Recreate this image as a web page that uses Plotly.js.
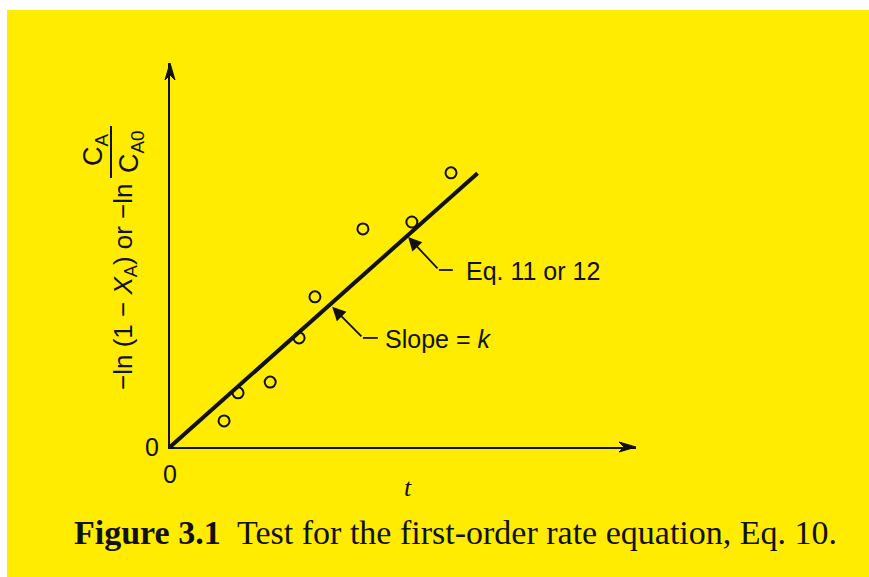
<!DOCTYPE html>
<html>
<head>
<meta charset="utf-8">
<script src="https://cdn.plot.ly/plotly-3.0.1.min.js"></script>
<style>
  html, body { margin: 0; padding: 0; background: #ffffff; }
  #sheet { position: relative; width: 869px; height: 577px; overflow: hidden; background: #ffffff; }
  #page { position: absolute; left: 7px; top: 10px; right: 0; bottom: 0; background: #FFEC00; }
  #chart { position: absolute; left: 0; top: 0; width: 869px; height: 577px; }
</style>
</head>
<body>
<div id="sheet">
  <div id="page"></div>
  <div id="chart"></div>
</div>
<script>
// Measured points: time t vs. -ln(1 - XA)
const timeT = [1.16, 1.46, 2.15, 2.77, 3.11, 4.14, 5.19, 6.03];
const lnValues = [0.68, 1.41, 1.69, 2.84, 3.91, 5.68, 5.86, 7.14];

// Fitted straight line through the origin (slope = k)
const fitT = [0, 6.6];
const fitY = [0, 7.13];

// Axis extents and tick labels
const xRange = [0, 10];
const yRange = [0, 10];
const xTickVals = [0];
const xTickText = ['0'];
const yTickVals = [0];
const yTickText = ['0'];

// Callout anchors: arrow tip on the line, elbow, end of the horizontal leader, label
const eqCallout = { tip: [5.11, 5.47], elbow: [5.77, 4.61], leaderEnd: 6.07, label: [6.30, 4.58], text: 'Eq. 11 or 12' };
const slopeCallout = { tip: [3.48, 3.65], elbow: [4.14, 2.84], leaderEnd: 4.46, label: [4.58, 2.80], text: 'Slope = <i>k</i>' };

const ink = '#111111';
const sans = 'Liberation Sans, Arial, sans-serif';
const serif = 'Liberation Serif, Times New Roman, serif';

// plot area geometry in page pixels
const W = 869, H = 577;
const M = { l: 170, r: 233, t: 63, b: 130 };
const plotW = W - M.l - M.r, plotH = H - M.t - M.b;
const px = x => (x - M.l) / plotW;          // page x -> paper x
const py = y => (H - M.b - y) / plotH;      // page y -> paper y

// notched arrowhead (paper coords, so it is not clipped by the plot area)
// pointing along +x ('x') or +y ('y'), tip at paper point (tx, ty); sizes in pixels
function arrowHead(tx, ty, dir, len, half, notch) {
  const pts = dir === 'x'
    ? [[0, 0], [-len, half], [-notch, 0], [-len, -half]]
    : [[0, 0], [-half, -len], [0, -notch], [half, -len]];
  return 'M' + pts.map(p => (tx + p[0] / plotW) + ',' + (ty + p[1] / plotH)).join(' L') + ' Z';
}

const traces = [
  {
    x: fitT, y: fitY, type: 'scatter', mode: 'lines',
    line: { color: ink, width: 4 }, hoverinfo: 'skip', cliponaxis: false
  },
  {
    x: timeT, y: lnValues, type: 'scatter', mode: 'markers',
    marker: { symbol: 'circle-open', size: 11, color: ink, line: { color: ink, width: 2 } },
    cliponaxis: false
  }
];

function callout(c) {
  return [
    {
      x: c.tip[0], y: c.tip[1], xref: 'x', yref: 'y',
      ax: c.elbow[0], ay: c.elbow[1], axref: 'x', ayref: 'y',
      text: '', showarrow: true, arrowhead: 2, arrowsize: 1.5, arrowwidth: 1.8,
      arrowcolor: ink, standoff: 0, startstandoff: 0
    },
    {
      x: c.label[0], y: c.label[1], xref: 'x', yref: 'y',
      text: c.text, showarrow: false, xanchor: 'left', yanchor: 'middle',
      font: { family: sans, size: 25, color: ink }
    }
  ];
}

function leader(c) {
  return {
    type: 'line', xref: 'x', yref: 'y',
    x0: c.elbow[0], y0: c.elbow[1], x1: c.leaderEnd, y1: c.elbow[1],
    line: { color: ink, width: 1.8 }
  };
}

const annotations = [
  ...callout(eqCallout),
  ...callout(slopeCallout),
  // y-axis title, drawn in pieces so the ratio reads as a stacked fraction
  {
    xref: 'paper', yref: 'paper', x: px(124), y: py(287),
    text: '\u2212ln (1 \u2212 <i>X</i><sub>A</sub>) or \u2212ln', textangle: -90,
    showarrow: false, xanchor: 'center', yanchor: 'middle',
    font: { family: sans, size: 26, color: ink }
  },
  {
    xref: 'paper', yref: 'paper', x: px(95), y: py(150),
    text: 'C<sub>A</sub>', textangle: -90,
    showarrow: false, xanchor: 'center', yanchor: 'middle',
    font: { family: sans, size: 27, color: ink }
  },
  {
    xref: 'paper', yref: 'paper', x: px(131), y: py(152),
    text: 'C<sub>A0</sub>', textangle: -90,
    showarrow: false, xanchor: 'center', yanchor: 'middle',
    font: { family: sans, size: 27, color: ink }
  },
  // x-axis title
  {
    xref: 'paper', yref: 'paper', x: px(408), y: py(487),
    text: '<i>t</i>', showarrow: false, xanchor: 'center', yanchor: 'middle',
    font: { family: serif, size: 26, color: ink }
  },
  // caption
  {
    xref: 'paper', yref: 'paper', x: px(455), y: py(532),
    text: '<b>Figure 3.1</b>\u00a0 Test for the first-order rate equation, Eq. 10.',
    showarrow: false, xanchor: 'center', yanchor: 'middle',
    font: { family: serif, size: 34, color: ink }
  }
];

const shapes = [
  leader(eqCallout),
  leader(slopeCallout),
  // fraction bar of the y-axis title
  {
    type: 'line', xref: 'paper', yref: 'paper',
    x0: px(111), x1: px(111), y0: py(126), y1: py(178),
    line: { color: ink, width: 2 }
  },
  // arrowheads at the ends of both axes
  {
    type: 'path', xref: 'paper', yref: 'paper',
    path: arrowHead(1, 0, 'x', 17, 5, 12),
    fillcolor: ink, line: { color: ink, width: 1 }
  },
  {
    type: 'path', xref: 'paper', yref: 'paper',
    path: arrowHead(0, 1, 'y', 17, 5, 12),
    fillcolor: ink, line: { color: ink, width: 1 }
  }
];

const axisCommon = {
  showgrid: false, zeroline: false, showline: true,
  linecolor: ink, linewidth: 2, ticks: '', fixedrange: true,
  tickfont: { family: sans, size: 25, color: ink }
};

const layout = {
  width: W, height: H,
  margin: M,
  paper_bgcolor: 'rgba(0,0,0,0)',
  plot_bgcolor: 'rgba(0,0,0,0)',
  showlegend: false,
  xaxis: Object.assign({}, axisCommon, {
    range: xRange, tickmode: 'array', tickvals: xTickVals, ticktext: xTickText,
    ticklabelstandoff: 4
  }),
  yaxis: Object.assign({}, axisCommon, {
    range: yRange, tickmode: 'array', tickvals: yTickVals, ticktext: yTickText,
    ticklabelstandoff: 4
  }),
  annotations: annotations,
  shapes: shapes
};

Plotly.newPlot('chart', traces, layout, { staticPlot: true, displayModeBar: false });
</script>
</body>
</html>
